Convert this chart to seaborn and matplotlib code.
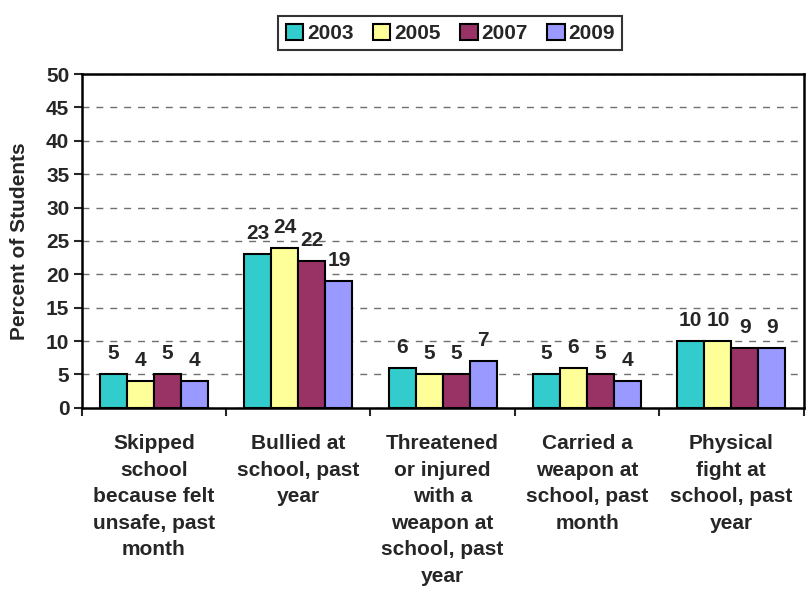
import numpy as np
import pandas as pd
import matplotlib
matplotlib.use('Agg')
import matplotlib.pyplot as plt
import seaborn as sns

# Data
categories = [
    'Skipped\nschool\nbecause felt\nunsafe, past\nmonth',
    'Bullied at\nschool, past\nyear',
    'Threatened\nor injured\nwith a\nweapon at\nschool, past\nyear',
    'Carried a\nweapon at\nschool, past\nmonth',
    'Physical\nfight at\nschool, past\nyear',
]
years = ['2003', '2005', '2007', '2009']
values_2003 = [5, 23, 6, 5, 10]
values_2005 = [4, 24, 5, 6, 10]
values_2007 = [5, 22, 5, 5, 9]
values_2009 = [4, 19, 7, 4, 9]
colors = ['#33CCCC', '#FFFF99', '#993366', '#9999FF']

series = [values_2003, values_2005, values_2007, values_2009]
df = pd.DataFrame({
    'category': categories * len(years),
    'year': np.repeat(years, len(categories)),
    'value': np.concatenate(series),
})

sns.set_style('white')
plt.rcParams['font.family'] = ['Liberation Sans', 'DejaVu Sans']
plt.rcParams['font.weight'] = 'bold'
fs = 15

fig = plt.figure(figsize=(8.1, 5.92), dpi=100)
ax = fig.add_axes([0.101, 0.311, 0.891, 0.564])

sns.barplot(data=df, x='category', y='value', hue='year', order=categories,
            hue_order=years, palette=colors, saturation=1, width=0.75,
            edgecolor='black', linewidth=1.5, ax=ax, legend=True)

for cont in ax.containers:
    ax.bar_label(cont, padding=8, fontsize=fs, fontweight='bold')

ax.set_ylim(0, 50)
ax.set_xlim(-0.5, len(categories) - 0.5)
ax.set_yticks(range(0, 51, 5))
ax.yaxis.grid(True, linestyle=(0, (5, 5)), color='#707070', linewidth=1)
ax.set_axisbelow(True)
for s in ax.spines.values():
    s.set_visible(True)
    s.set_color('black')
    s.set_linewidth(1.8)

ax.tick_params(axis='y', which='major', direction='out', length=6, width=1.5,
               labelsize=fs, left=True, pad=3)
ax.tick_params(axis='x', which='major', length=0, labelsize=fs, pad=19)
ax.set_xticks(np.arange(-0.5, len(categories), 1), minor=True)
ax.tick_params(axis='x', which='minor', direction='out', length=6, width=1.5, bottom=True)
for lbl in ax.get_xticklabels():
    lbl.set_linespacing(1.5)
    lbl.set_fontweight('bold')
for lbl in ax.get_yticklabels():
    lbl.set_fontweight('bold')

ax.set_xlabel('')
ax.set_ylabel('Percent of Students', fontsize=fs, fontweight='bold', labelpad=12)

handles, labels = ax.get_legend_handles_labels()
ax.legend_.remove()
leg = fig.legend(handles, labels, loc='upper center', bbox_to_anchor=(0.556, 0.99),
                 ncol=4, frameon=True, fancybox=False, edgecolor='black',
                 prop={'weight': 'bold', 'size': fs},
                 handlelength=0.85, handleheight=0.85, handletextpad=0.2,
                 columnspacing=0.9, borderpad=0.35)
leg.get_frame().set_linewidth(1.5)

fig.savefig('out.png', dpi=100)
